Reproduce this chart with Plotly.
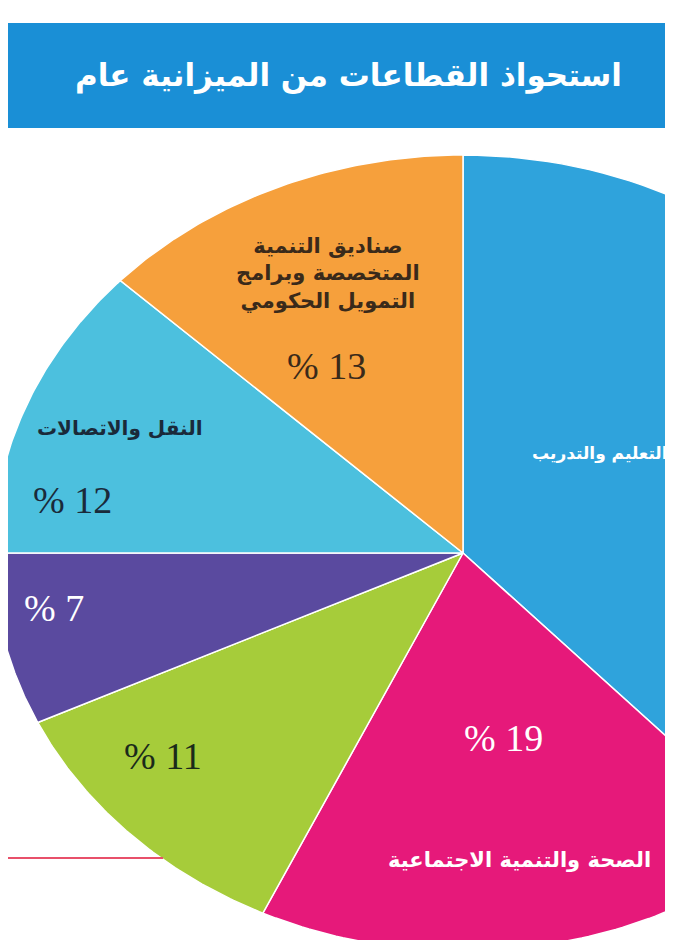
import numpy as np
import plotly.graph_objects as go

sectors = ["التعليم والتدريب", "الصحة والتنمية الاجتماعية", "other_green", "other_purple",
           "النقل والاتصالات", "صناديق التنمية المتخصصة وبرامج التمويل الحكومي"]
values = [38, 19, 11, 7, 12, 13]
colors = ["#2fa3dc", "#e6197a", "#a6cc3a", "#5a4a9f", "#4cc0de", "#f6a03c"]

cx, cy, rx, ry = 455, 545, 470, 398
fig = go.Figure()
total = sum(values)
start = 0.0
for v, c in zip(values, colors):
    a0 = start / total * 2 * np.pi
    a1 = (start + v) / total * 2 * np.pi
    t = np.linspace(a0, a1, 80)
    xs = np.concatenate([[cx], cx + rx * np.sin(t), [cx]])
    ys = np.concatenate([[cy], cy - ry * np.cos(t), [cy]])
    fig.add_trace(go.Scatter(x=xs, y=ys, fill="toself", fillcolor=c, mode="lines",
                             line=dict(color="white", width=1.5), hoverinfo="skip", showlegend=False))
    start += v

serif = "Liberation Serif"
ar = "DejaVu Sans"
ann = [
    dict(x=320, y=265, text="<b>صناديق التنمية<br>المتخصصة وبرامج<br>التمويل الحكومي</b>", font=dict(family=ar, size=21, color="#3a2a1a")),
    dict(x=318, y=358, text="% 13", font=dict(family=serif, size=38, color="#3a2a1a")),
    dict(x=197, y=420, text="<b>النقل والاتصالات</b>", xanchor="right", font=dict(family=ar, size=20, color="#1a2a3a")),
    dict(x=106, y=492, text="% 12", xanchor="right", font=dict(family=serif, size=38, color="#1a2a3a")),
    dict(x=78, y=600, text="% 7", xanchor="right", font=dict(family=serif, size=38, color="white")),
    dict(x=155, y=748, text="% 11", font=dict(family=serif, size=38, color="#1a2a1a")),
    dict(x=495, y=730, text="% 19", font=dict(family=serif, size=38, color="white")),
    dict(x=645, y=852, text="<b>الصحة والتنمية الاجتماعية</b>", xanchor="right", font=dict(family=ar, size=21, color="white")),
    dict(x=662, y=445, text="<b>التعليم والتدريب</b>", xanchor="right", font=dict(family=ar, size=17, color="white")),
    dict(x=340, y=67, text="<b>استحواذ القطاعات من الميزانية عام</b>", xanchor="center", font=dict(family=ar, size=31, color="white")),
]
for a in ann:
    a.update(showarrow=False, xref="x", yref="y")
    a.setdefault("xanchor", "center")
    fig.add_annotation(**a)

fig.update_layout(
    width=673, height=940, margin=dict(l=0, r=0, t=0, b=0),
    paper_bgcolor="white", plot_bgcolor="white",
    xaxis=dict(range=[0, 673], visible=False, fixedrange=True),
    yaxis=dict(range=[940, 0], visible=False, fixedrange=True),
    shapes=[
        dict(type="rect", xref="x", yref="y", x0=0, x1=673, y0=15, y1=120, fillcolor="#1a8fd6", line_width=0, layer="below"),
        dict(type="line", xref="x", yref="y", x0=0, x1=155, y0=850, y1=850, line=dict(color="#e8506a", width=2)),
    ],
)
fig.write_html("out.html")
